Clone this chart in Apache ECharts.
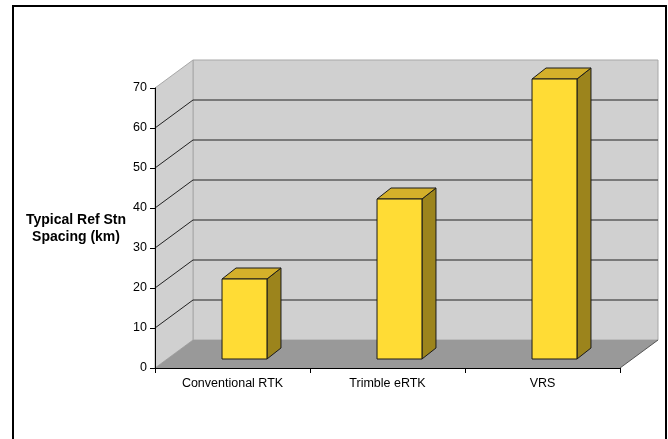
<!DOCTYPE html>
<html>
<head>
<meta charset="utf-8">
<script src="https://cdn.jsdelivr.net/npm/echarts@6/dist/echarts.min.js"></script>
<style>
  html, body { margin: 0; padding: 0; background: #fff; }
  #chart { width: 668px; height: 439px; }
</style>
</head>
<body>
<div id="chart"></div>
<script>
const categories = ['Conventional RTK', 'Trimble eRTK', 'VRS'];
const spacing = [20, 40, 70];
const yTicks = [0, 10, 20, 30, 40, 50, 60, 70];

// fake 3d: wall depth and bar depth in pixels
const WX = 38, WY = -28;
const FX = 12, FY = -9;
const DX = 14, DY = -11;

const myChart = echarts.init(document.getElementById('chart'));

function renderWalls(params, api) {
  const half = api.size([1, 0])[0] / 2;
  const lo = api.coord([0, yTicks[0]]);
  const hi = api.coord([0, yTicks[yTicks.length - 1]]);
  const xl = lo[0] - half;
  const xr = api.coord([categories.length - 1, 0])[0] + half;
  const y0 = lo[1], y1 = hi[1];
  const kids = [];
  // back wall
  kids.push({
    type: 'polygon',
    shape: { points: [[xl + WX, y1 + WY], [xr + WX, y1 + WY], [xr + WX, y0 + WY], [xl + WX, y0 + WY]] },
    style: { fill: '#d0d0d0', stroke: '#a8a8a8', lineWidth: 1 }
  });
  // side wall
  kids.push({
    type: 'polygon',
    shape: { points: [[xl, y0], [xl, y1], [xl + WX, y1 + WY], [xl + WX, y0 + WY]] },
    style: { fill: '#d0d0d0', stroke: '#a8a8a8', lineWidth: 1 }
  });
  // floor
  kids.push({
    type: 'polygon',
    shape: { points: [[xl, y0], [xr, y0], [xr + WX, y0 + WY], [xl + WX, y0 + WY]] },
    style: { fill: '#999999' }
  });
  kids.push({
    type: 'line',
    shape: { x1: xr, y1: y0, x2: xr + WX, y2: y0 + WY },
    style: { stroke: '#555', lineWidth: 1 }
  });
  // gridlines on side and back wall
  yTicks.slice(1, -1).forEach(function (v) {
    const y = api.coord([0, v])[1];
    kids.push({
      type: 'polyline',
      shape: { points: [[xl, y], [xl + WX, y + WY], [xr + WX, y + WY]] },
      style: { stroke: '#222', lineWidth: 1, fill: null }
    });
  });
  return { type: 'group', children: kids };
}

function renderBar(params, api) {
  const cat = api.value(0), v = api.value(1);
  const top = api.coord([cat, v]);
  const base = api.coord([cat, 0]);
  const w = api.size([1, 0])[0] * 0.29;
  const x0 = top[0] - w / 2 + FX;
  const yb = base[1] + FY;
  const yt = top[1] + FY;
  const line = { stroke: '#1a1a1a', lineWidth: 1 };
  return {
    type: 'group',
    children: [
      {
        type: 'polygon',
        shape: { points: [[x0 + w, yt], [x0 + w + DX, yt + DY], [x0 + w + DX, yb + DY], [x0 + w, yb]] },
        style: Object.assign({ fill: '#9c841c' }, line)
      },
      {
        type: 'polygon',
        shape: { points: [[x0, yt], [x0 + w, yt], [x0 + w + DX, yt + DY], [x0 + DX, yt + DY]] },
        style: Object.assign({ fill: '#d4b02a' }, line)
      },
      {
        type: 'rect',
        shape: { x: x0, y: yt, width: w, height: yb - yt },
        style: Object.assign({ fill: '#ffdc35' }, line)
      }
    ]
  };
}

myChart.setOption({
  animation: false,
  backgroundColor: '#fff',
  textStyle: { fontFamily: 'Liberation Sans, Arial, sans-serif' },
  grid: { left: 155, top: 88, right: 48, bottom: 71 },
  graphic: [
    {
      type: 'rect',
      shape: { x: 13, y: 6, width: 653, height: 460 },
      style: { fill: null, stroke: '#000', lineWidth: 2 },
      z: 100
    },
    {
      type: 'text',
      x: 76,
      y: 229,
      style: {
        text: 'Typical Ref Stn\nSpacing (km)',
        font: 'bold 14px Liberation Sans, Arial, sans-serif',
        fill: '#000',
        align: 'center',
        verticalAlign: 'middle',
        lineHeight: 17
      }
    }
  ],
  xAxis: {
    type: 'category',
    data: categories,
    z: 10,
    axisLine: { lineStyle: { color: '#000', width: 1 } },
    axisTick: { show: true, length: 5, lineStyle: { color: '#000' } },
    axisLabel: { color: '#000', fontSize: 12.5, margin: 9 },
    splitLine: { show: false }
  },
  yAxis: {
    type: 'value',
    min: 0,
    max: 70,
    interval: 10,
    z: 10,
    axisLine: { show: true, lineStyle: { color: '#000', width: 1 } },
    axisTick: { show: true, length: 5, lineStyle: { color: '#000' } },
    axisLabel: { color: '#000', fontSize: 12.5, margin: 8 },
    splitLine: { show: false }
  },
  series: [
    {
      name: 'walls',
      type: 'custom',
      renderItem: renderWalls,
      data: [[0, 0]],
      silent: true,
      z: 1
    },
    {
      name: 'Typical Ref Stn Spacing (km)',
      type: 'custom',
      renderItem: renderBar,
      data: spacing.map(function (v, i) { return [i, v]; }),
      z: 3
    }
  ]
});

window.onresize = function () {
  myChart.resize();
};
</script>
</body>
</html>
